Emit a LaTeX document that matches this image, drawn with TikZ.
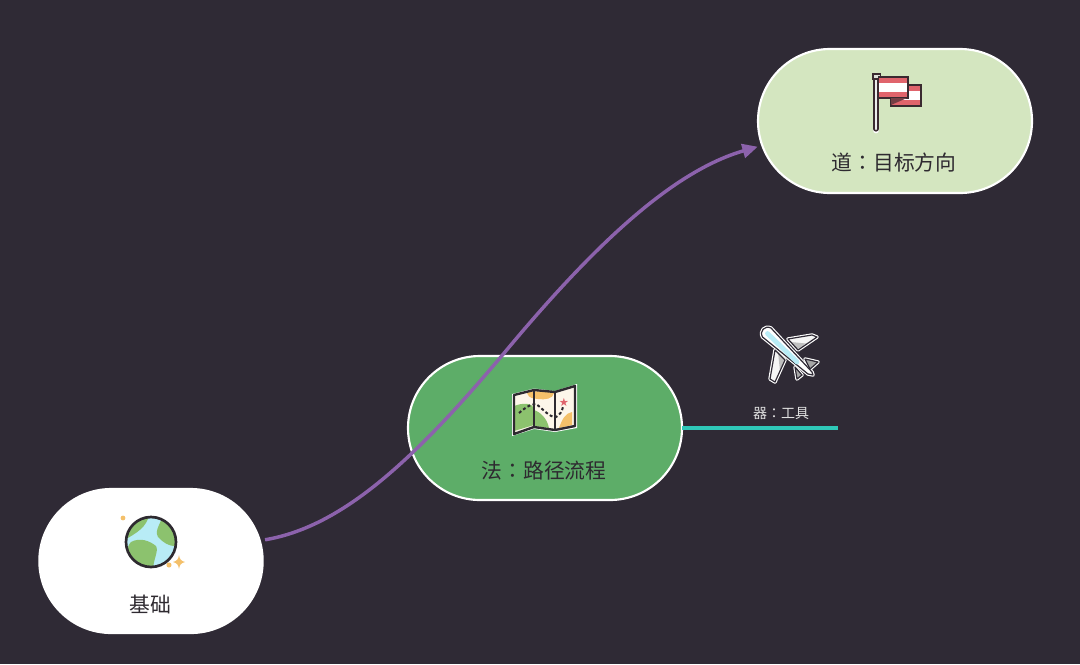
\documentclass[tikz,border=0pt]{standalone}
\usepackage{fontspec}
\newfontfamily\cjk{Noto Sans CJK SC}
\newfontfamily\cjkc{Noto Sans CJK TC}
\usetikzlibrary{shapes.misc,arrows.meta}
\definecolor{bgc}{HTML}{2F2A35}
\definecolor{dk}{HTML}{2E2A30}
\definecolor{gm}{HTML}{5DAD68}
\definecolor{gl}{HTML}{D4E6C0}
\definecolor{pur}{HTML}{8C62AC}
\definecolor{teal2}{HTML}{2FC8B8}
\definecolor{flagr}{HTML}{E0646C}
\definecolor{flagd}{HTML}{3A2A30}
\definecolor{leaf}{HTML}{8CC26E}
\definecolor{sky}{HTML}{B8ECF6}
\definecolor{ora}{HTML}{F4C06A}
\definecolor{pap}{HTML}{FDF6EA}
\newcommand{\clnx}{{\cjkc ：}}
\tikzset{
 topic/.style={rounded rectangle,draw=white,line width=1.6pt,minimum height=108pt,inner sep=0pt,outer sep=0pt},
 lab/.style={font=\cjk\fontsize{15.6pt}{18pt}\selectfont,text=dk,inner sep=0pt},
 planeout/.style={draw=white,line width=2.6pt,line join=round},
 planein/.style={draw=bgc,line width=0.9pt,line join=round}
}
\begin{document}
\begin{tikzpicture}[x=0.75pt,y=-0.75pt]
\fill[bgc] (0,0) rectangle (1080,664);
\useasboundingbox (0,0) rectangle (1080,664);
\node[topic,fill=white,minimum width=167.5pt] (base) at (151,561) {};
\node[topic,fill=gm,minimum width=205.5pt] (fa) at (545,428) {};
\node[topic,fill=gl,minimum width=205.5pt] (dao) at (895,121) {};
\node[lab] (t1) at (150,604) {基础};
\node[lab] (t2) at (544,471) {法\clnx 路径流程};
\node[lab] (t3) at (894,163) {道\clnx 目标方向};
\node[font=\cjk\fontsize{10.5pt}{12pt}\selectfont,text=white!88!black,inner sep=0pt] (t4) at (781,413) {器{\cjkc ：}工具};
\coordinate (tl) at (838,428);
\draw[teal2,line width=2.6pt] (fa.east) -- (tl);
\draw[pur,line width=2.6pt,-{Triangle[length=11.5pt,width=10.5pt]}] ([shift={(5,-2)}]base.10.5) .. controls (340,527) and (410,465) .. (505,352) .. controls (590,250) and (670,172) .. ([shift={(-5,0)}]dao.191);
% flag
\begin{scope}
\draw[white,line width=5pt,line cap=round] (876,76) -- (876,130);
\draw[flagd,line width=3.9pt,line cap=round] (876,76) -- (876,129);
\draw[white!85!gray,line width=1.7pt,line cap=round] (876,78) -- (876,129);
\fill[flagd] (871.5,73) rectangle (881,80);
\fill[gl!50!gray!40!white] (873.5,75) rectangle (879.5,78);
\fill[flagr] (891,85) rectangle (920,105);
\fill[white] (891,91) rectangle (920,100);
\draw[flagd,line width=1.5pt] (891,84.5) rectangle (920.5,105.5);
\fill[flagr] (878.5,77.5) rectangle (907.5,97.5);
\fill[white] (878.5,83) rectangle (907.5,92);
\draw[flagd,line width=1.5pt] (878,77) -- (907.5,77) -- (907.5,97.5) -- (878,97.5);
\fill[flagd!65!flagr] (891,98) -- (907,98) -- (891,105) -- cycle;
\end{scope}
% map
\begin{scope}
\fill[white] (512,394) -- (534,388.5) -- (555,391) -- (577,384) -- (577,428) -- (555,432) -- (534,429) -- (512,436) -- cycle;
\fill[pap] (514,395) -- (534,390) -- (555,392) -- (575,386) -- (575,426) -- (555,430) -- (534,427) -- (514,434) -- cycle;
\fill[ora] (527,393) .. controls (532,390) and (550,392) .. (554,393) .. controls (553,399) and (545,400) .. (538,399) .. controls (533,398) and (529,399) .. (527,393) -- cycle;
\fill[leaf] (514,406) .. controls (522,403) and (532,402) .. (534,409) -- (534,425) -- (514,431) -- cycle;
\fill[leaf] (534,410) .. controls (540,412) and (547,418) .. (549,428) -- (534,426) -- cycle;
\fill[ora] (559,428) .. controls (562,420) and (565,413) .. (572,412) -- (572,425) -- cycle;
\draw[dk,line width=1.8pt,line join=round] (514,395) -- (534,390) -- (555,392) -- (575,386) -- (575,426) -- (555,430) -- (534,427) -- (514,434) -- cycle;
\draw[dk,line width=1.8pt] (534,390) -- (534,427) (555,392) -- (555,430);
\draw[dk,line width=1.5pt,dash pattern=on 2.2pt off 1.8pt] (519,413) .. controls (525,408) and (530,404) .. (536,404) .. controls (542,408) and (550,418) .. (556,417) .. controls (560,415) and (562,411) .. (563,407);
\node[font=\fontspec{DejaVu Sans}\fontsize{8.5pt}{9pt}\selectfont,text=flagr,inner sep=0pt] (star) at (564,402) {★};
\end{scope}
% plane
\begin{scope}
\def\wingA{(788,339) -- (812,335) -- (817,337) -- (798,350) -- cycle}
\def\wingB{(775,350) -- (770,379) -- (775,382) -- (785,360) -- cycle}
\def\tailA{(805,359) -- (818,362) -- (810,369) -- cycle}
\def\tailB{(795,367) -- (797,379) -- (802,375) -- cycle}
\def\bodyp{(762.5,337) .. controls (759,331) and (765,325) .. (771,328) -- (812,372) -- (813,375) -- (808,374) -- cycle}
\foreach \p in {\wingA,\wingB,\tailA,\tailB,\bodyp} {\draw[planeout] \p;}
\fill[white!92!gray] \wingA; \fill[white!92!gray] \wingB;
\fill[gray!50!white] (797,349.5) -- (806,343.5) -- (791,342) -- cycle;
\fill[gray!50!white] (785,360) -- (780,371) -- (778,352) -- cycle;
\fill[gray!70!white] \tailA; \fill[gray!70!white] \tailB;
\foreach \p in {\wingA,\wingB,\tailA,\tailB} {\draw[planein] \p;}
\fill[white] \bodyp;
\draw[planein] \bodyp;
\draw[sky,line width=3.6pt,line cap=round] (767.5,333.5) -- (797,362);
\end{scope}
% earth
\begin{scope}
\fill[ora] (123,518) circle (1.8pt);
\fill[ora] (169,565) circle (1.9pt);
\fill[ora] (179,555) .. controls (179.5,559) and (181,561) .. (185,562) .. controls (181,563) and (179.5,565) .. (179,569) .. controls (178.5,565) and (177,563) .. (173,562) .. controls (177,561) and (178.5,559) .. (179,555) -- cycle;
\fill[sky] (151,542) circle (25);
\begin{scope}
\clip (151,542) circle (25);
\fill[leaf] (122,515) -- (149,515) .. controls (147,526) and (138,533) .. (122,541) -- cycle;
\fill[leaf] (163,517) .. controls (158,526) and (155,533) .. (158,537) .. controls (162,541) and (168,547) .. (178,546) -- (178,520) -- cycle;
\fill[leaf] (131,542) .. controls (140,537) and (150,541) .. (156,546) .. controls (159,551) and (153,560) .. (153,570) -- (135,570) .. controls (128,556) and (125,548) .. (131,542) -- cycle;
\end{scope}
\draw[dk,line width=2pt] (151,542) circle (25);
\end{scope}
\end{tikzpicture}
\end{document}
